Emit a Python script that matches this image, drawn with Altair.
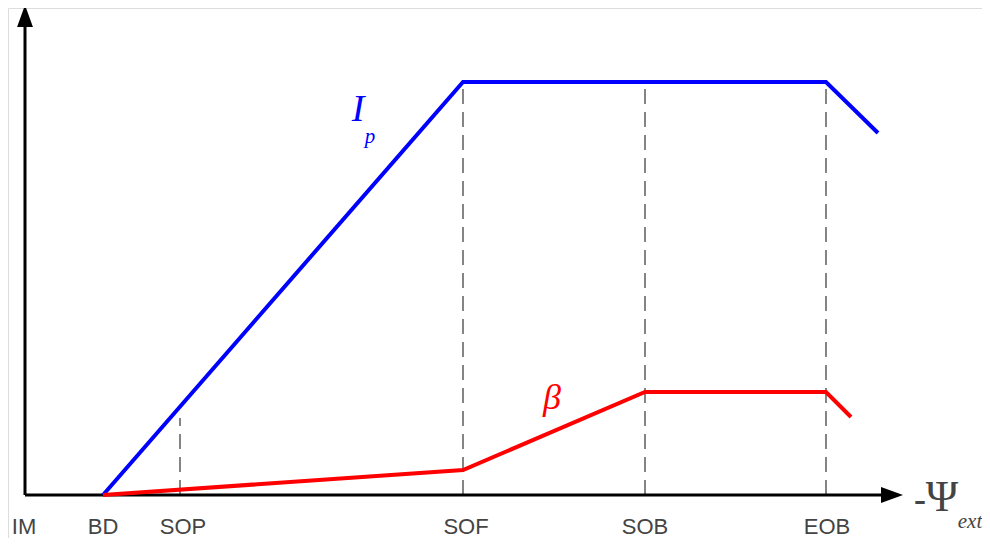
import altair as alt
import pandas as pd

# data units: x from IM origin, y from horizontal axis
ip_x = [78, 438, 801, 853]
ip_y = [0, 413, 413, 362]
beta_x = [78, 438, 620, 801, 826]
beta_y = [0, 25, 103, 103, 78]

tick_names = ["IM", "BD", "SOP", "SOF", "SOB", "EOB"]
tick_pos = [-1, 78, 158, 441, 620, 802]

dash_x = [155, 438, 620, 801]
dash_top = [77, 413, 413, 413]

W, H = 974, 530
xs = alt.Scale(domain=[-17, 957], range=[0, W], nice=False, zero=False)
ys = alt.Scale(domain=[-43, 487], range=[H, 0], nice=False, zero=False)
X = lambda f: alt.X(f, type="quantitative", scale=xs, axis=None)
Y = lambda f: alt.Y(f, type="quantitative", scale=ys, axis=None)

ip_df = pd.DataFrame({"x": ip_x, "y": ip_y, "o": range(len(ip_x))})
beta_df = pd.DataFrame({"x": beta_x, "y": beta_y, "o": range(len(beta_x))})
dash_df = pd.DataFrame({"x": dash_x, "y0": [0] * 4, "y1": dash_top})
tick_df = pd.DataFrame({"x": tick_pos, "y": [-32] * 6, "t": tick_names})

dashes = alt.Chart(dash_df).mark_rule(color="#222222", strokeWidth=1.1, strokeDash=[15, 8]).encode(
    x=X("x"), y=Y("y0"), y2="y1")

axis_df = pd.DataFrame({"x": [0, 0], "y": [0, 0], "x2": [0, 857], "y2": [468, 0]})
axes = alt.Chart(axis_df).mark_rule(color="black", strokeWidth=3, strokeCap="butt").encode(
    x=X("x"), y=Y("y"), x2="x2", y2="y2")

up = alt.Chart(pd.DataFrame({"x": [0], "y": [479]})).mark_point(
    shape="M0,-1L0.72,1L-0.72,1Z", size=484, filled=True, color="black", opacity=1
).encode(x=X("x"), y=Y("y"))
right = alt.Chart(pd.DataFrame({"x": [867], "y": [0]})).mark_point(
    shape="M1,0L-1,0.72L-1,-0.72Z", size=484, filled=True, color="black", opacity=1
).encode(x=X("x"), y=Y("y"))

ip_line = alt.Chart(ip_df).mark_line(color="#0000ff", strokeWidth=4, strokeJoin="miter").encode(
    x=X("x"), y=Y("y"), order="o")
beta_line = alt.Chart(beta_df).mark_line(color="#ff0000", strokeWidth=4, strokeJoin="miter").encode(
    x=X("x"), y=Y("y"), order="o")

ticks = alt.Chart(tick_df).mark_text(font="Liberation Sans", fontSize=22, color="#444444",
                                     baseline="middle", align="center").encode(
    x=X("x"), y=Y("y"), text="t")

def label(x, y, t, **kw):
    return alt.Chart(pd.DataFrame({"x": [x], "y": [y], "t": [t]})).mark_text(
        baseline="middle", align="center", **kw).encode(x=X("x"), y=Y("y"), text="t")

lbl_I = label(333, 385, "I", font="Liberation Serif", fontStyle="italic", fontSize=38, color="#0000ff")
lbl_p = label(345, 358, "p", font="Liberation Serif", fontStyle="italic", fontSize=21, color="#0000ff")
lbl_b = label(527, 97, "β", font="Liberation Serif", fontStyle="italic", fontSize=36, color="#ff0000")
lbl_minus = label(895, -5, "-", font="Liberation Serif", fontWeight="bold", fontSize=36, color="#444444")
lbl_psi = label(917, -3, "Ψ", font="Liberation Serif", fontSize=44, color="#444444")
lbl_ext = label(945, -27, "ext", font="Liberation Serif", fontStyle="italic", fontSize=21, color="#444444")

chart = alt.layer(dashes, axes, up, right, ip_line, beta_line, ticks,
                  lbl_I, lbl_p, lbl_b, lbl_minus, lbl_psi, lbl_ext).properties(
    width=W, height=H, padding=0, autosize=alt.AutoSizeParams(type="none")
).configure_view(strokeWidth=0, stroke="transparent").configure(background="white")

chart.save("out.html", embed_options={"renderer": "svg", "actions": False})
